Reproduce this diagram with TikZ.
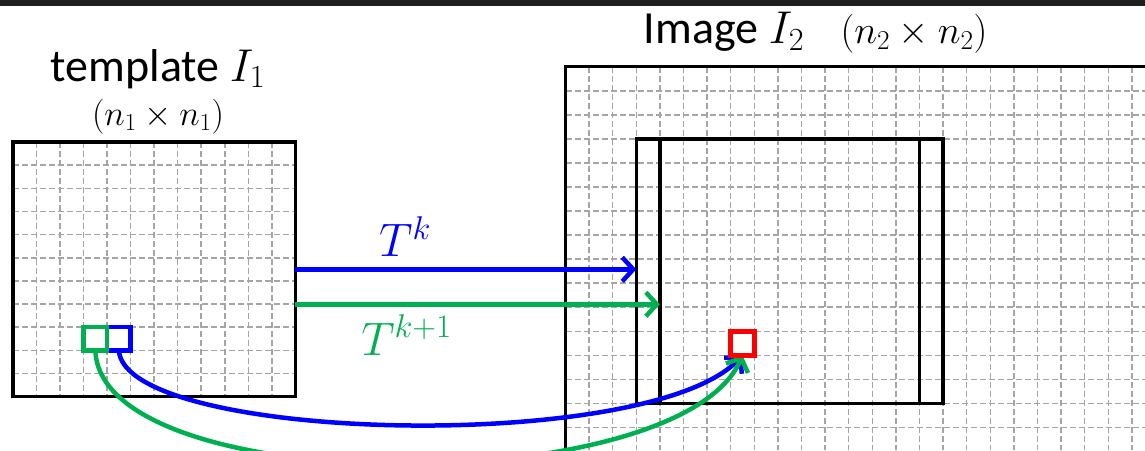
\RequirePackage{fix-cm}
\documentclass[tikz,border=0pt]{standalone}
\usepackage[no-math]{fontspec}
\newfontfamily\calibri{Carlito}
\usetikzlibrary{arrows.meta,positioning}

\definecolor{tgreen}{RGB}{0,176,80}
\definecolor{gridgray}{RGB}{165,165,165}

\tikzset{
  gridline/.style={gridgray, line width=1.5pt, dash pattern=on 6pt off 3pt},
  frame/.style={draw, line width=3.5pt, inner sep=0pt, outer sep=0pt, anchor=north west},
  cell/.style={draw=#1, line width=4.5pt, inner sep=0pt, outer sep=0pt, anchor=north west},
  flow/.style={#1, line width=4.5pt, -{Straight Barb[length=11pt,width=24pt]}},
  bigtxt/.style={font=\calibri\fontsize{46}{50}\selectfont, inner sep=0pt, anchor=base},
  smalltxt/.style={font=\fontsize{#1}{40}\selectfont, inner sep=0pt, anchor=base}
}

\begin{document}
\begin{tikzpicture}[x=1pt,y=-1pt]
\useasboundingbox (0,0) rectangle (1145,450);
\clip (0,0) rectangle (1145,450);
\fill[black!88] (0,0) rectangle (1145,5.5);

% grids
\foreach \i in {1,...,11}
  \draw[gridline] ({13+23.53*\i},142) -- ({13+23.53*\i},396.7);
\foreach \j in {1,...,10}
  \draw[gridline] (13,{142+23.15*\j}) -- (295.3,{142+23.15*\j});
\foreach \i in {1,...,24}
  \draw[gridline] ({565.5+23.6*\i},66.7) -- ({565.5+23.6*\i},450);
\foreach \j in {1,...,15}
  \draw[gridline] (565.5,{66.7+24.05*\j}) -- (1145,{66.7+24.05*\j});

% boxes
\node[frame, minimum width=282.3pt, minimum height=254.7pt] (tmpl) at (13,142) {};
\node[frame, minimum width=700pt, minimum height=500pt] (img) at (565.5,66.7) {};
\node[frame, minimum width=283.2pt, minimum height=264.55pt] (frk) at (636.3,138.85) {};
\node[frame, minimum width=283.2pt, minimum height=264.55pt] (frkk) at (659.9,138.85) {};

% titles
\node[bigtxt, align=center] (ttl) at (158,125)
  {template $I_1$\\[-6pt]{\rmfamily\fontsize{35}{40}\selectfont $(n_1\times n_1)$}};
\node[bigtxt] (itl) at (724,43.3) {Image $I_2$};
\node[smalltxt=39] (isz) at (914,43.3) {$(n_2\times n_2)$};

% transforms
\coordinate (gstart) at (295.3,304.3);
\draw[flow=blue] (tmpl.east) -- (tmpl.east -| frk.west);
\draw[flow=tgreen] (gstart) -- (gstart -| frkk.west);
\node[font=\fontsize{47}{50}\selectfont, text=blue, inner sep=0pt, anchor=base] (lk) at (405,256.7) {$T^k$};
\node[font=\fontsize{47}{50}\selectfont, text=tgreen, inner sep=0pt, anchor=base] (lkk) at (406.5,355) {$T^{k+1}$};

% pixels
\node[cell=blue, minimum width=23.53pt, minimum height=23.15pt] (bsq) at (107.1,327.2) {};
\node[cell=tgreen, minimum width=23.53pt, minimum height=23.15pt] (gsq) at (83.6,327.2) {};
\node[cell=red, minimum width=23.6pt, minimum height=24.05pt] (rsq) at (730.7,331.25) {};

\draw[flow=blue] (bsq.south) .. controls +(6,92) and +(-92,100) .. (rsq.south);
\draw[flow=tgreen] (gsq.south) .. controls +(5,150) and +(-62,145) .. (rsq.south);
\node[cell=red, minimum width=23.6pt, minimum height=24.05pt] at (rsq.north west) {};
\end{tikzpicture}
\end{document}
